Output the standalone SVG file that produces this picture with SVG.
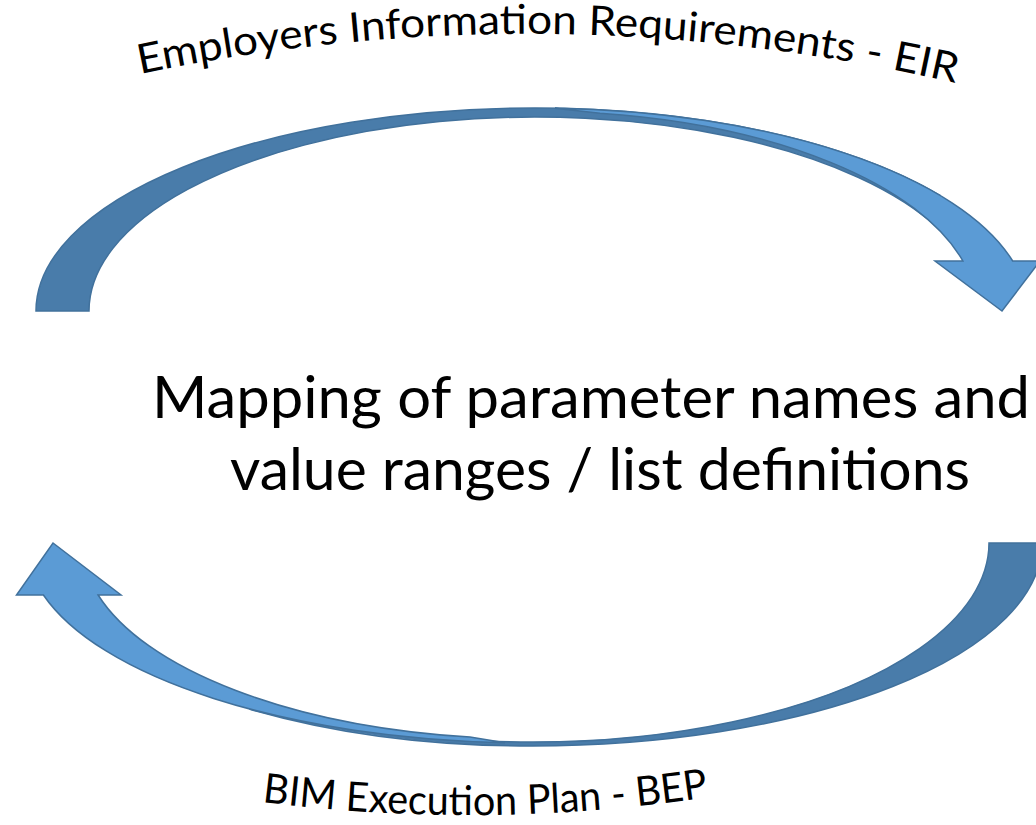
<svg xmlns="http://www.w3.org/2000/svg" width="1036" height="825" viewBox="0 0 1036 825">
  <style>
    .back { fill: #497CAA; stroke: #41719C; stroke-width: 1.5; stroke-linejoin: miter; }
    .front { fill: #5B9BD5; stroke: #41719C; stroke-width: 1.5; stroke-linejoin: miter; }
    .main { font-family: Lato, "Open Sans", "Liberation Sans", sans-serif; font-size: 58px; fill: #000; }
    .arc { font-family: Lato, "Open Sans", "Liberation Sans", sans-serif; font-size: 41px; fill: #000; }
  </style>
  <defs>
    <path id="arcTop" d="M 140 74 Q 549 -11 960 84"/>
    <path id="arcBottom" d="M 262 802 Q 486 830.5 710 797"/>
  </defs>
  <rect x="0" y="0" width="1036" height="825" fill="#FFFFFF"/>

  <g id="connectors">
    <g id="arrow-eir">
      <path class="back" d="M 36 311 A 499 203 0 0 1 535 108 A 493 203 0 0 1 940 195.3 L 940 229.8 A 446 194 0 0 0 89 311 Z"/>
      <path class="front" d="M 555 108.2 A 493 203 0 0 1 1012.7 261 L 1040 261 L 1002 311 L 935 261 L 962.9 261 A 442 200 0 0 0 600 113.2 Z"/>
    </g>
    <g id="arrow-bep">
      <path class="back" d="M 1042 543 A 510 203 0 0 1 532 746 A 491 203 0 0 1 250 709.2 L 250 699.6 A 457 199 0 0 0 989 543 Z"/>
      <path class="front" d="M 505 742.7 A 506 200 0 0 1 43.4 595 L 16.5 595 L 53 543 L 121 595 L 98.1 595 A 450 196 0 0 0 470 737.1 Z"/>
    </g>
  </g>

  <g id="node-mapping">
    <text class="main" x="152" y="418" textLength="878" lengthAdjust="spacingAndGlyphs">Mapping of parameter names and</text>
    <text class="main" x="230" y="490" textLength="740" lengthAdjust="spacingAndGlyphs">value ranges / list definitions</text>
  </g>

  <g id="label-eir">
    <text class="arc"><textPath href="#arcTop" textLength="822" lengthAdjust="spacingAndGlyphs">Employers Information Requirements - EIR</textPath></text>
  </g>
  <g id="label-bep">
    <text class="arc"><textPath href="#arcBottom" textLength="448" lengthAdjust="spacingAndGlyphs">BIM Execution Plan - BEP</textPath></text>
  </g>
</svg>
